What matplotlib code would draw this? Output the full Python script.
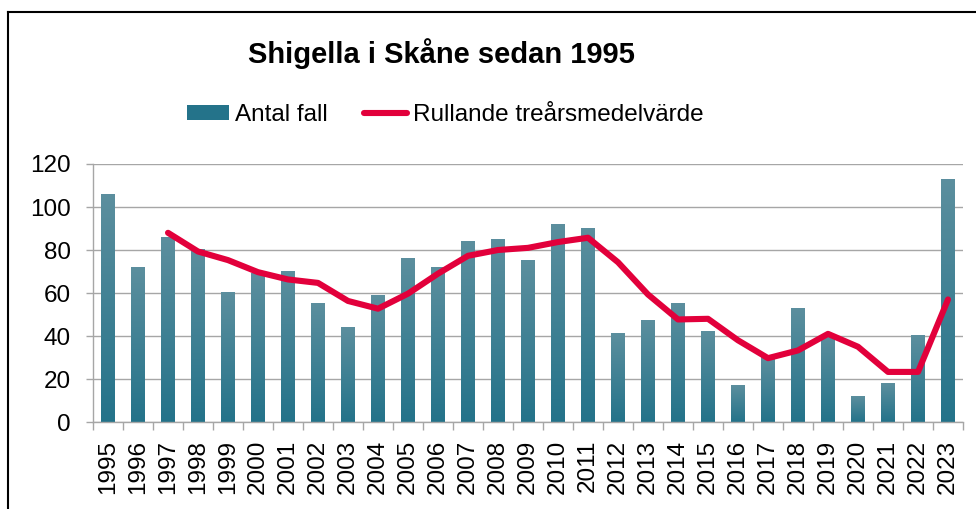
import numpy as np
import matplotlib
matplotlib.use("Agg")
import matplotlib.pyplot as plt
from matplotlib.colors import LinearSegmentedColormap
from matplotlib.lines import Line2D
from matplotlib.patches import Patch

plt.rcParams['font.family'] = ['Liberation Sans', 'DejaVu Sans']

# data
years = [str(y) for y in range(1995, 2024)]
antal_fall = [106, 72, 86, 80, 60, 69, 70, 55, 44, 59, 76, 72, 84, 85, 75,
              92, 90, 41, 47, 55, 42, 17, 30, 53, 40, 12, 18, 40, 113]
rullande = [np.nan, np.nan, 88, 79.3, 75.3, 69.7, 66.3, 64.7, 56.3, 52.7,
            59.7, 69, 77.3, 80, 81, 83.7, 85.7, 74.3, 59.3, 47.7, 48, 38,
            29.7, 33.3, 41, 35, 23.3, 23.3, 57]

bar_top = (0.36, 0.56, 0.62)
bar_bottom = (0.14, 0.45, 0.54)
line_color = '#e2003b'
grid_color = '#a6a6a6'

fig = plt.figure(figsize=(9.76, 5.09), dpi=100)
ax = fig.add_axes([0.0953, 0.1709, 0.8914, 0.5069])

x = np.arange(len(years))
w = 0.44
cmap = LinearSegmentedColormap.from_list('bar', [bar_bottom, bar_top])
grad = np.linspace(0, 1, 256).reshape(-1, 1)
bars = ax.bar(x, antal_fall, width=w, color='none', zorder=2)
for b in bars:
    x0, h = b.get_x(), b.get_height()
    ax.imshow(grad, extent=[x0, x0 + w, 0, h], origin='lower', aspect='auto',
              cmap=cmap, vmin=0, vmax=1, zorder=2)

ax.plot(x, rullande, color=line_color, lw=4.4, solid_capstyle='round',
        solid_joinstyle='round', zorder=3)

ax.set_xlim(-0.5, len(years) - 0.5)
ax.set_ylim(0, 120)
ax.set_yticks(range(0, 121, 20))
ax.yaxis.grid(True, color=grid_color, lw=1)
ax.set_axisbelow(True)

ax.set_xticks(x)
ax.set_xticklabels(years, rotation=90)
ax.set_xticks(np.arange(-0.5, len(years)), minor=True)
ax.tick_params(axis='x', which='major', length=0, pad=13, labelsize=17.5)
ax.tick_params(axis='x', which='minor', length=6, color=grid_color, width=1)
ax.tick_params(axis='y', length=5, color=grid_color, width=1, pad=11,
               labelsize=17.5)

for s in ['top', 'right']:
    ax.spines[s].set_visible(False)
for s in ['left', 'bottom']:
    ax.spines[s].set_color(grid_color)
    ax.spines[s].set_linewidth(1)

fig.text(0.452, 0.895, 'Shigella i Skåne sedan 1995', ha='center',
         va='center', fontsize=21, fontweight='bold')

handles = [Patch(facecolor=bar_bottom, edgecolor='none'),
           Line2D([0], [0], color=line_color, lw=4.4, solid_capstyle='round')]
fig.legend(handles, ['Antal fall', 'Rullande treårsmedelvärde'],
           loc='center', bbox_to_anchor=(0.456, 0.774), ncol=2, frameon=False,
           fontsize=17.5, handlelength=1.75, handleheight=0.6,
           handletextpad=0.25, columnspacing=1.5)

# outer frame
fig.add_artist(Line2D([8 / 976, 8 / 976], [0, 1 - 12 / 509], color='black',
                      lw=1.5, transform=fig.transFigure))
fig.add_artist(Line2D([8 / 976, 1], [1 - 12 / 509, 1 - 12 / 509],
                      color='black', lw=1.5, transform=fig.transFigure))

fig.savefig('out.png', dpi=100)
